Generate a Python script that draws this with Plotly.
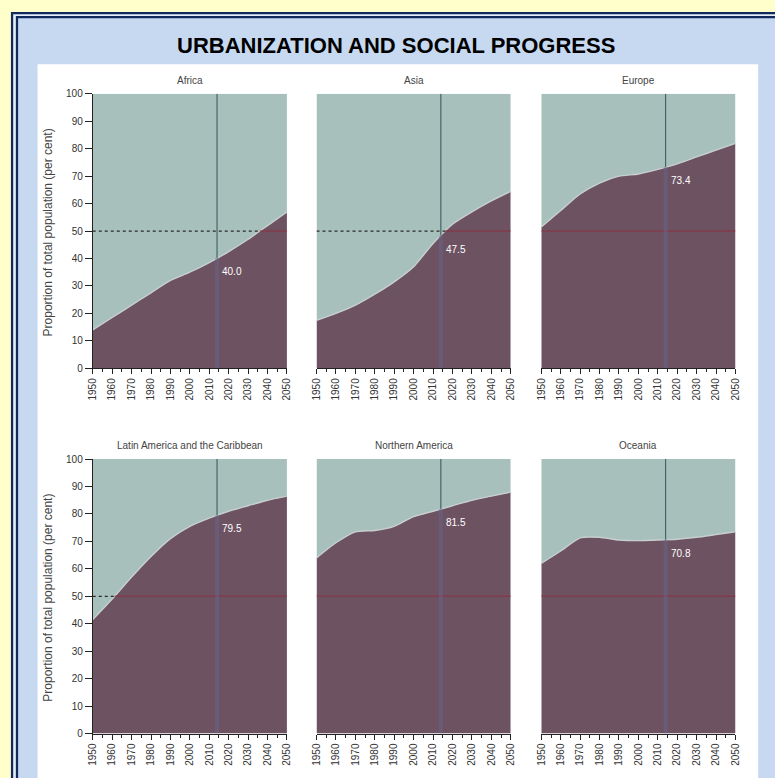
import numpy as np
import plotly.graph_objects as go

W, H = 775, 778

# ---------------- data ----------------
years = [1950, 1960, 1970, 1980, 1990, 2000, 2010, 2020, 2030, 2040, 2050]
year_labels = [str(y) for y in years]
regions = ["Africa", "Asia", "Europe",
           "Latin America and the Caribbean", "Northern America", "Oceania"]
africa = [14, 18.5, 23, 27.5, 32, 35, 38.5, 42.5, 47, 52, 57]
asia = [17.5, 20, 23, 27, 31.5, 37, 45.5, 52.5, 57, 61, 64.5]
europe = [51.5, 57.5, 63.5, 67.5, 70, 70.8, 72.5, 74.5, 77, 79.5, 82]
latin_america = [41.5, 49, 57, 64.5, 71, 75.5, 78.5, 81, 83, 85, 86.5]
northern_america = [64, 69.5, 73.5, 74, 75.5, 79, 81, 83, 85, 86.5, 88]
oceania = [62, 66.5, 71.3, 71.5, 70.5, 70.3, 70.5, 70.8, 71.5, 72.5, 73.5]
urban_series = [africa, asia, europe, latin_america, northern_america, oceania]
label_values = ["40.0", "47.5", "73.4", "79.5", "81.5", "70.8"]
marker_year = 2014
y_ticks = list(range(0, 101, 10))

# ---------------- styles ----------------
URBAN = "#6D5262"
RURAL = "#A7C0BB"
EDGE = "#C6CFCE"
FONT = "Liberation Sans"

def fx(p):
    return p / W

def fy(p):
    return 1 - p / H

col_px = [(88, 285), (315, 512), (543, 740)]
row_px = [(90, 368), (460, 738)]

fig = go.Figure()
layout = dict(
    width=W, height=H, margin=dict(l=0, r=0, t=0, b=0),
    paper_bgcolor="#FFFFCC", plot_bgcolor="rgba(0,0,0,0)",
    showlegend=False, font=dict(family=FONT, color="#333333"),
)

annotations = []
for i, (name, urban) in enumerate(zip(regions, urban_series)):
    r, c = divmod(i, 3)
    ax = "" if i == 0 else str(i + 1)
    xa, ya = "x" + ax, "y" + ax
    x0, x1 = col_px[c]
    y0, y1 = row_px[r]
    layout["xaxis" + ax] = dict(
        domain=[fx(x0), fx(x1)], range=[1950, 2050], anchor=ya,
        tickvals=years, ticktext=year_labels, tickangle=-90,
        ticks="outside", ticklen=5, tickcolor="#222", showline=True,
        linecolor="#222", linewidth=1, showgrid=False, zeroline=False,
        tickfont=dict(size=10, color="#333", family=FONT),
        minor=dict(dtick=5, ticks="outside", ticklen=3, tickcolor="#222", showgrid=False),
        fixedrange=True,
    )
    ydict = dict(
        domain=[fy(y1), fy(y0)], range=[0, 100], anchor=xa,
        showgrid=False, zeroline=False, fixedrange=True,
    )
    if c == 0:
        ydict.update(tickvals=y_ticks, ticks="outside", ticklen=7, tickcolor="#222",
                     showline=True, linecolor="#222", linewidth=1,
                     tickfont=dict(size=10, color="#333", family=FONT))
    else:
        ydict.update(showticklabels=False, ticks="", showline=False)
    layout["yaxis" + ax] = ydict

    common = dict(xaxis=xa, yaxis=ya, hoverinfo="skip", showlegend=False)
    fig.add_trace(go.Scatter(x=years, y=urban, mode="lines", fill="tozeroy",
                             fillcolor=URBAN, line=dict(width=0, color=URBAN, shape="spline", smoothing=0.6), **common))
    fig.add_trace(go.Scatter(x=years, y=[100] * len(years), mode="lines", fill="tonexty",
                             fillcolor=RURAL, line=dict(width=0, color=RURAL), **common))
    fig.add_trace(go.Scatter(x=years, y=urban, mode="lines",
                             line=dict(width=1.4, color=EDGE, shape="spline", smoothing=0.6), **common))
    # 50 per cent reference line
    cross = 1950.0 if urban[0] >= 50 else float(np.interp(50, urban, years))
    if cross > 1950:
        fig.add_trace(go.Scatter(x=[1950, cross], y=[50, 50], mode="lines",
                                 line=dict(width=1.3, color="#2a2a2a", dash="dot"), **common))
    fig.add_trace(go.Scatter(x=[cross, 2050], y=[50, 50], mode="lines",
                             line=dict(width=1.4, color="rgba(140,50,65,0.7)"), **common))
    # marker year line
    um = float(np.interp(marker_year, years, urban))
    fig.add_trace(go.Scatter(x=[marker_year, marker_year], y=[0, um], mode="lines",
                             line=dict(width=4, color="rgba(100,105,145,0.45)"), **common))
    fig.add_trace(go.Scatter(x=[marker_year, marker_year], y=[um, 100], mode="lines",
                             line=dict(width=1.2, color="#46666a"), **common))
    annotations.append(dict(x=marker_year, y=um, xref=xa, yref=ya, text=label_values[i],
                            showarrow=False, xanchor="left", yanchor="top", xshift=3, yshift=-6,
                            font=dict(size=10, color="white", family=FONT)))
    # subplot title
    annotations.append(dict(x=fx((x0 + x1) / 2), y=fy(y0 - 14), xref="paper", yref="paper",
                            text=name, showarrow=False, xanchor="center", yanchor="middle",
                            font=dict(size=10, color="#444", family=FONT)))

# y axis titles
for (y0, y1) in row_px:
    annotations.append(dict(x=fx(43), y=fy((y0 + y1) / 2 + 1), xref="paper", yref="paper",
                            text="Proportion of total population (per cent)", textangle=-90,
                            showarrow=False, xanchor="center", yanchor="middle",
                            font=dict(size=12, color="#444", family=FONT)))
# main title
annotations.append(dict(x=fx(396), y=fy(41), xref="paper", yref="paper",
                        text="<b>URBANIZATION AND SOCIAL PROGRESS</b>", showarrow=False,
                        xanchor="center", yanchor="middle",
                        font=dict(size=22, color="#000000", family=FONT)))
layout["annotations"] = annotations

def rect(xa, ya, xb, yb, color):
    return dict(type="rect", xref="paper", yref="paper", x0=fx(xa), x1=fx(xb),
                y0=fy(yb), y1=fy(ya), fillcolor=color, line=dict(width=0), layer="below")

layout["shapes"] = [
    rect(5, 7, W + 20, H + 20, "#12295E"),
    rect(7.3, 9.3, W + 20, H + 20, "#E4ECF7"),
    rect(10, 11.2, W + 20, H + 20, "#12295E"),
    rect(12.3, 13.4, W + 20, H + 20, "#C6D9F1"),
    rect(32, 60, 763, H + 20, "#FFFFFF"),
]

fig.update_layout(**layout)
fig.write_html("out.html", config={"displayModeBar": False},
               post_script="document.body.style.margin='0';document.body.style.overflow='hidden';")
